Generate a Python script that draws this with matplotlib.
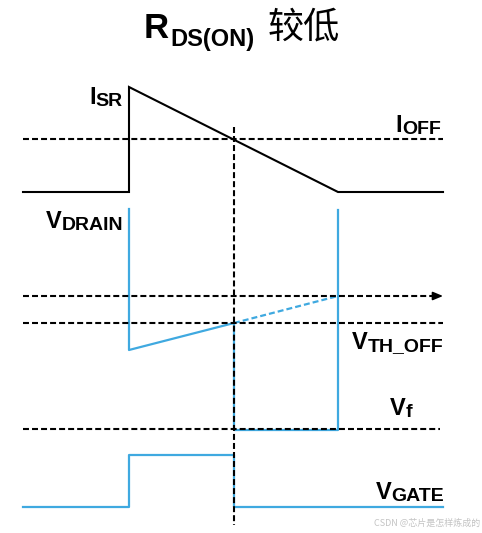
import matplotlib.pyplot as plt

plt.rcParams['font.family'] = ['Liberation Sans', 'DejaVu Sans']
plt.rcParams['lines.scale_dashes'] = False

BLUE = '#3fa9e0'
DASH = (4.3, 2.2)

# time marks (horizontal position of the switching events)
t_start, t_on, t_cross, t_end, t_stop = 23, 129, 234, 338, 443

# current waveform (I_SR ramp) and level lines, in picture units (y down)
cur_t = [t_start, t_on, t_on, t_end, t_stop]
cur_y = [192, 192, 87, 192, 192]
i_off = 139

# drain voltage
drain_pre_t = [t_on, t_on, t_cross]
drain_pre_y = [209, 350, 323]
drain_dash_t = [t_cross, t_end]
drain_dash_y = [323, 296]
drain_post_t = [t_cross, t_cross, t_end, t_end]
drain_post_y = [323, 430, 430, 210]
v_zero = 296
v_th_off = 323
v_f = 429

# gate voltage
gate_t = [t_start, t_on, t_on, t_cross, t_cross, t_stop]
gate_y = [507, 507, 455, 455, 507, 507]

# signal labels: main letter, subscript, right edge, baseline
labels = [
    ('I', 'SR', 123, 104),
    ('I', 'OFF', 441, 132),
    ('V', 'DRAIN', 123, 228),
    ('V', 'TH_OFF', 443, 349),
    ('V', 'f', 412, 415),
    ('V', 'GATE', 444, 499),
]

fig = plt.figure(figsize=(4.82, 5.33), dpi=100)
ax = fig.add_axes([0, 0, 1, 1])
ax.set_xlim(0, 482)
ax.set_ylim(533, 0)
ax.axis('off')

# waveforms
ax.plot(cur_t, cur_y, color='black', lw=1.5, solid_joinstyle='miter')
ax.plot(drain_pre_t, drain_pre_y, color=BLUE, lw=1.6)
ax.plot(drain_dash_t, drain_dash_y, color=BLUE, lw=1.6, dashes=DASH)
ax.plot(drain_post_t, drain_post_y, color=BLUE, lw=1.6)
ax.plot(gate_t, gate_y, color=BLUE, lw=1.6)

# reference dashed lines
for lvl, x1 in [(i_off, t_stop), (v_th_off, t_stop), (v_f, t_stop - 3)]:
    ax.plot([t_start, x1], [lvl, lvl], color='black', lw=1.5, dashes=DASH)
ax.plot([t_start, t_stop - 7], [v_zero, v_zero], color='black', lw=1.5, dashes=DASH)
ax.annotate('', xy=(t_stop, v_zero), xytext=(t_stop - 9, v_zero),
            arrowprops=dict(arrowstyle='-|>,head_length=0.6,head_width=0.25',
                            color='black', lw=1.2, shrinkA=0, shrinkB=0))
ax.plot([t_cross, t_cross], [127, 525], color='black', lw=1.5, dashes=DASH)

# labels with subscripts (axes units == pixels, so widths map directly)
renderer = fig.canvas.get_renderer()
for main, sub, xr, yb in labels:
    ts = ax.text(xr, yb + 2, sub, fontsize=14, fontweight='bold',
                 ha='right', va='baseline')
    ws = ts.get_window_extent(renderer).width
    ax.text(xr - ws, yb, main, fontsize=17, fontweight='bold',
            ha='right', va='baseline')

# title
ax.text(144, 38, 'R', fontsize=25, fontweight='bold', va='baseline', ha='left')
ax.text(170, 46, 'DS(ON)', fontsize=17, fontweight='bold', va='baseline', ha='left')
ax.text(268, 38, '较低', fontsize=26, va='baseline', ha='left',
        family=['Noto Sans CJK SC', 'DejaVu Sans'])

# watermark
ax.text(480, 523, 'CSDN @芯片是怎样炼成的', fontsize=6.5, color='#c4c4c4',
        ha='right', va='center', family=['Noto Sans CJK SC', 'DejaVu Sans'])

fig.savefig('out.png', dpi=100)
